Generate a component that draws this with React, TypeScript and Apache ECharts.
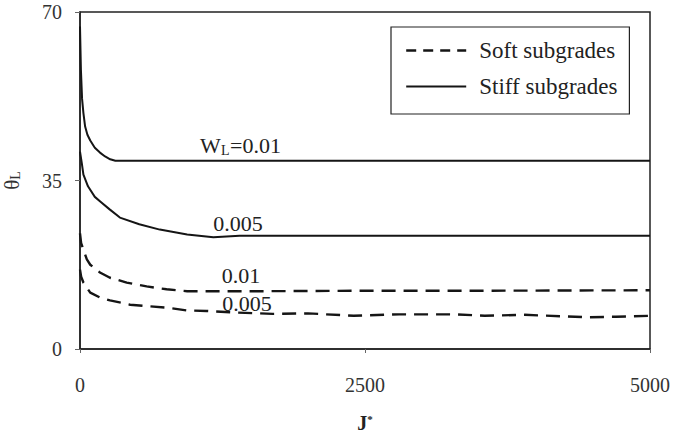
import React, { useEffect, useRef } from "react";
import * as echarts from "echarts";

// ---- data ----
const stiff001J = [0, 8, 18, 30, 45, 65, 90, 130, 175, 220, 265, 310, 5000];
const stiff001T = [67, 58, 52, 49, 46.2, 44.5, 43.3, 41.8, 40.8, 40, 39.4, 39.1, 39.1];

const stiff0005J = [0, 15, 30, 70, 130, 180, 260, 350, 520, 700, 940, 1170, 1400, 5000];
const stiff0005T = [41, 38.7, 36.2, 33.8, 31.6, 30.6, 29, 27.3, 25.9, 24.8, 23.8, 23.2, 23.5, 23.5];

const soft001J = [0, 10, 30, 60, 90, 175, 263, 410, 585, 760, 940, 1500, 2500, 3500, 5000];
const soft001T = [24, 22, 20.6, 18.6, 17.5, 15.9, 14.8, 13.8, 13, 12.4, 12, 12, 12.1, 12.1, 12.2];

const soft0005J = [0, 10, 30, 90, 175, 263, 440, 585, 760, 940, 1110, 1345, 1690, 2000, 2400, 2800, 3300, 3550, 3900, 4450, 4700, 5000];
const soft0005T = [16.5, 15, 13.8, 11.7, 10.7, 10.1, 9.2, 8.9, 8.6, 8.0, 7.9, 7.6, 7.3, 7.4, 6.9, 7.2, 7.2, 6.9, 7.1, 6.6, 6.7, 6.9];

const legendNames = ["Soft subgrades", "Stiff subgrades"];
const xTicks = { min: 0, max: 5000, interval: 2500 };
const yTicks = { min: 0, max: 70, interval: 35 };

const curveLabels = [
  { text: "0.005", x: 238, y: 223 },
  { text: "0.01", x: 241, y: 275 },
  { text: "0.005", x: 247, y: 303 },
];

const zip = (a: number[], b: number[]) => a.map((v, i) => [v, b[i]]);

const SERIF = "Liberation Serif";
const INK = "#151515";

export default function App() {
  const ref = useRef<HTMLDivElement>(null);
  useEffect(() => {
    if (!ref.current) return;
    const chart = echarts.init(ref.current, undefined, { renderer: "svg" });
    const dashed = { color: INK, width: 2.4, type: [14, 8] as any };
    const solid = { color: INK, width: 2, type: "solid" as any };
    const hidden = { color: "transparent", borderWidth: 0, opacity: 0 };
    chart.setOption({
      animation: false,
      backgroundColor: "#ffffff",
      textStyle: { fontFamily: SERIF },
      grid: {
        left: 80,
        right: 25,
        top: 12,
        bottom: 94,
        containLabel: false,
        outerBoundsMode: "none",
        show: true,
        borderColor: "#222",
        borderWidth: 1.5,
      },
      legend: {
        orient: "vertical",
        left: 391,
        top: 27,
        padding: [12, 12, 16, 14],
        itemWidth: 60,
        itemHeight: 20,
        itemGap: 13,
        borderColor: "#222",
        borderWidth: 1.2,
        itemStyle: hidden,
        textStyle: { fontFamily: SERIF, fontSize: 23, color: "#222", padding: [0, 0, 0, 8] },
        data: [
          { name: legendNames[0], itemStyle: hidden, lineStyle: { color: INK, width: 2.4, type: [10, 7] } },
          { name: legendNames[1], itemStyle: hidden, lineStyle: { color: INK, width: 2, type: "solid" } },
        ],
      },
      xAxis: {
        type: "value",
        ...xTicks,
        name: "J{sup|*}",
        nameLocation: "middle",
        nameGap: 64,
        nameTextStyle: {
          fontFamily: SERIF,
          fontSize: 20,
          fontWeight: "bold",
          color: "#222",
          rich: { sup: { fontFamily: SERIF, fontSize: 11, verticalAlign: "top", color: "#222", padding: [0, 0, 8, 0] } },
        },
        axisLine: { show: true, lineStyle: { color: "#222", width: 1.5 } },
        axisTick: { show: true, length: 4, lineStyle: { color: "#666" } },
        axisLabel: { fontFamily: SERIF, fontSize: 20, color: "#333", margin: 26, formatter: (v: number) => String(v) },
        splitLine: { show: false },
      },
      yAxis: {
        type: "value",
        ...yTicks,
        name: "θ{sub|L}",
        nameLocation: "middle",
        nameRotate: 90,
        nameGap: 58,
        nameTextStyle: {
          fontFamily: SERIF,
          fontSize: 21,
          color: "#333",
          rich: { sub: { fontFamily: SERIF, fontSize: 14, color: "#333", verticalAlign: "bottom", padding: [6, 0, 0, 0] } },
        },
        axisLine: { show: true, lineStyle: { color: "#222", width: 1.5 } },
        axisTick: { show: true, length: 5, lineStyle: { color: "#666" } },
        axisLabel: { fontFamily: SERIF, fontSize: 20, color: "#333", margin: 18, formatter: (v: number) => String(v) },
        splitLine: { show: false },
      },
      series: [
        { name: legendNames[0], type: "line", data: zip(soft001J, soft001T), symbol: "none", lineStyle: dashed, color: INK },
        { name: legendNames[0], type: "line", data: zip(soft0005J, soft0005T), symbol: "none", lineStyle: dashed, color: INK },
        { name: legendNames[1], type: "line", data: zip(stiff001J, stiff001T), symbol: "none", lineStyle: solid, color: INK },
        { name: legendNames[1], type: "line", data: zip(stiff0005J, stiff0005T), symbol: "none", lineStyle: solid, color: INK },
      ],
      graphic: [
        {
          type: "group",
          children: [
            { type: "text", x: 200, y: 145, style: { text: "W", fontFamily: SERIF, fontSize: 22, fill: "#222", verticalAlign: "middle", align: "left" } },
            { type: "text", x: 221, y: 150, style: { text: "L", fontFamily: SERIF, fontSize: 14, fill: "#222", verticalAlign: "middle", align: "left" } },
            { type: "text", x: 230, y: 145, style: { text: "=0.01", fontFamily: SERIF, fontSize: 22, fill: "#222", verticalAlign: "middle", align: "left" } },
          ],
        },
        ...curveLabels.map((l) => ({
          type: "text",
          x: l.x,
          y: l.y,
          style: { text: l.text, fontFamily: SERIF, fontSize: 22, fill: "#222", align: "center", verticalAlign: "middle" },
        })),
      ],
    });
    return () => chart.dispose();
  }, []);
  return (
    <div
      ref={ref}
      style={{ position: "fixed", left: 0, top: 0, width: 675, height: 443, background: "#fff" }}
    />
  );
}
